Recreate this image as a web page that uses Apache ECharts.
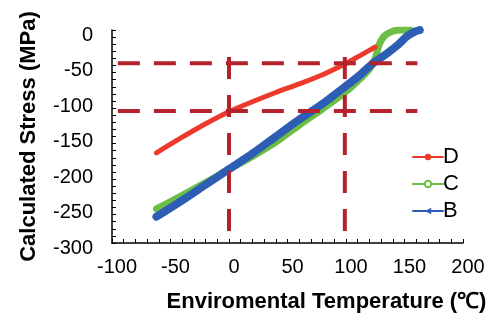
<!DOCTYPE html>
<html><head><meta charset="utf-8">
<script src="https://cdn.jsdelivr.net/npm/echarts/dist/echarts.min.js"></script>
<style>html,body{margin:0;padding:0;background:#fff}#c{width:504px;height:327px}</style>
</head><body><div id="c"></div><script>
// Tick settings
const xMin = -100, xMax = 200, xStep = 50;
const yMin = -300, yMax = 0, yStep = 50;

// Series D
const tempD   = [-62, -40, -20, 0, 20, 40, 60, 80, 99, 112, 125];
const stressD = [-173, -151, -132, -115, -101, -88, -76, -63, -48, -36, -24];
// Series C
const tempC   = [-62, -40, -20, 0, 20, 40, 60, 80, 99, 110, 120, 125, 128, 132, 138, 146, 155];
const stressC = [-252, -233, -215, -196, -178, -158, -134, -111, -88, -72, -55, -40, -22, -10, -3, 0, 0];
// Series B
const tempB   = [-62, -40, -20, 0, 20, 40, 60, 80, 99, 110, 123, 135, 145, 152, 158, 163];
const stressB = [-263, -240, -218, -196, -174, -150, -126, -104, -80, -66, -47, -33, -20, -9, -3, 0];

// Reference dashed lines
const hLineStress = [-47, -114];
const hLineTemp   = [-95, 161];
const vLineTemp   = [0, 99];
const vLineStress = [-38, -300];

const names = ['D', 'C', 'B'];
const colors = ['#EE3A2C', '#6DBE45', '#2D5DB5'];

function pairs(xs, ys) { return xs.map((x, i) => [x, ys[i]]); }

const dashColor = '#B5222C';
const dashSeries = [];
hLineStress.forEach(y => dashSeries.push({
  type: 'line', data: [[hLineTemp[0], y], [hLineTemp[1], y]], symbol: 'none', silent: true, z: 5,
  lineStyle: { color: dashColor, width: 4, type: [22, 14] }
}));
vLineTemp.forEach(x => dashSeries.push({
  type: 'line', data: [[x, vLineStress[0]], [x, vLineStress[1]]], symbol: 'none', silent: true, z: 5,
  lineStyle: { color: dashColor, width: 4, type: [22, 16] }
}));

const font = 'Arial, "Liberation Sans", sans-serif';
const chart = echarts.init(document.getElementById('c'), null, { renderer: 'canvas' });
chart.setOption({
  animation: false,
  backgroundColor: '#fff',
  grid: { left: 112, right: 41, top: 30, bottom: 84 },
  legend: {
    data: names, orient: 'vertical', left: 407, top: 141,
    itemWidth: 30, itemHeight: 8, itemGap: 5,
    textStyle: { fontFamily: font, fontSize: 22, color: '#000', padding: [0, 0, 0, -5] },
    lineStyle: { width: 2 }
  },
  xAxis: {
    type: 'value', min: xMin, max: xMax, interval: xStep,
    name: 'Enviromental Temperature (℃)', nameLocation: 'middle', nameGap: 48,
    nameTextStyle: { fontFamily: font, fontSize: 22, fontWeight: 'bold', color: '#000', padding: [0, 0, 0, 78] },
    axisLine: { onZero: false, lineStyle: { color: '#000', width: 1.5 } },
    axisTick: { inside: true, length: 4, lineStyle: { color: '#000' } },
    minorTick: { show: true, splitNumber: 5, length: 4, lineStyle: { color: '#000' } },
    axisLabel: { fontFamily: font, fontSize: 20, color: '#000', margin: 14, padding: [0, 0, 0, 10] },
    splitLine: { show: false }
  },
  yAxis: {
    type: 'value', min: yMin, max: yMax, interval: yStep,
    name: 'Calculated Stress (MPa)', nameLocation: 'middle', nameGap: 72, nameRotate: 90,
    nameTextStyle: { fontFamily: font, fontSize: 22, fontWeight: 'bold', color: '#000' },
    axisLine: { onZero: false, lineStyle: { color: '#000', width: 1.5 } },
    axisTick: { inside: true, length: 4, lineStyle: { color: '#000' } },
    minorTick: { show: true, splitNumber: 5, length: 4, lineStyle: { color: '#000' } },
    axisLabel: { fontFamily: font, fontSize: 20, color: '#000', margin: 19, verticalAlign: 'top', lineHeight: 10 },
    splitLine: { show: false }
  },
  series: [
    { name: 'D', type: 'line', data: pairs(tempD, stressD), smooth: 0.3, showSymbol: false,
      symbol: 'circle', symbolSize: 5, z: 3,
      itemStyle: { color: colors[0] }, lineStyle: { color: colors[0], width: 5, cap: 'round' } },
    { name: 'C', type: 'line', data: pairs(tempC, stressC), smooth: 0.3, showSymbol: false,
      symbol: 'emptyCircle', symbolSize: 6, z: 2,
      itemStyle: { color: colors[1] }, lineStyle: { color: colors[1], width: 7, cap: 'round' } },
    { name: 'B', type: 'line', data: pairs(tempB, stressB), smooth: 0.3, showSymbol: false,
      symbol: 'triangle', symbolRotate: 90, symbolSize: 7, z: 3,
      itemStyle: { color: colors[2] }, lineStyle: { color: colors[2], width: 8, cap: 'round' } }
  ].concat(dashSeries)
});
</script></body></html>
